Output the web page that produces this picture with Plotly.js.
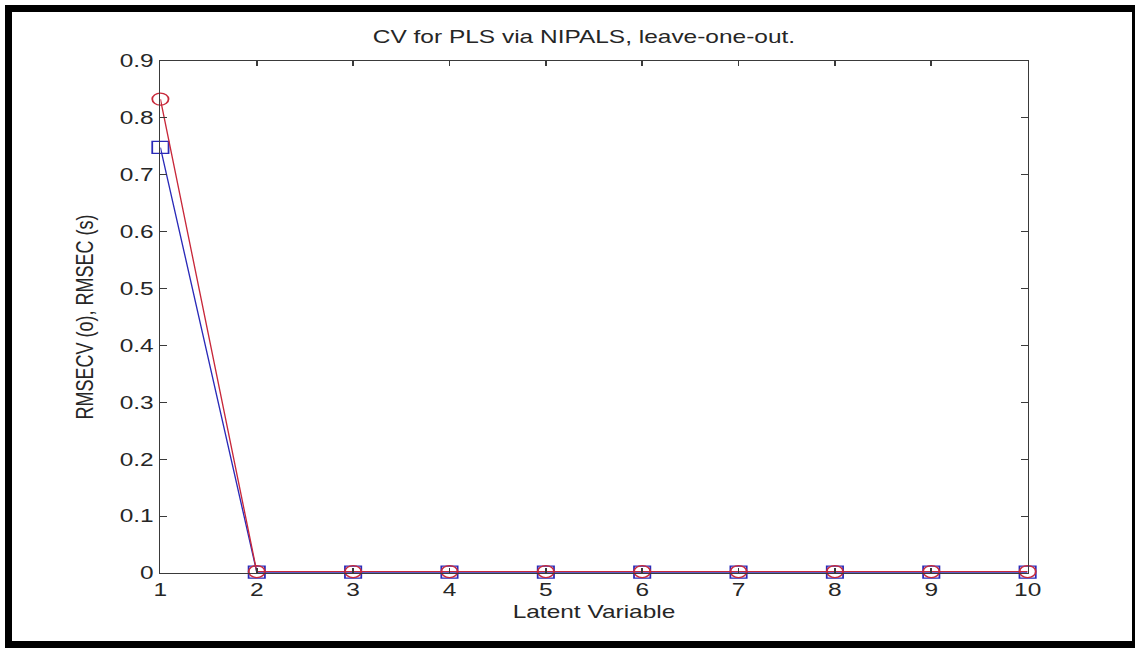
<!DOCTYPE html>
<html>
<head>
<meta charset="utf-8">
<script src="https://cdn.plot.ly/plotly-3.0.1.min.js"></script>
<style>
  html, body { margin: 0; padding: 0; background: #fff; overflow: hidden; }
  #wrap { position: relative; width: 1135px; height: 648px; overflow: hidden; background: #fff; }
  #chart { position: absolute; left: 0; top: 0; width: 835px; height: 648px;
           transform: scaleX(1.3593); transform-origin: 0 0; }
  #frame { position: absolute; left: 5px; top: 5px; width: 1130px; height: 643px; box-sizing: border-box;
           border-top: 7px solid #000; border-left: 7px solid #000; border-bottom: 7px solid #000; border-right: 3px solid #000;
           pointer-events: none; }
</style>
</head>
<body>
<div id="wrap">
  <div id="chart"></div>
  <div id="frame"></div>
</div>
<script>
// Data
const latentVariables = [1, 2, 3, 4, 5, 6, 7, 8, 9, 10];
const rmsecv = [0.833, 0.0025, 0.0025, 0.0025, 0.0025, 0.0025, 0.0025, 0.0025, 0.0025, 0.0025];
const rmsec  = [0.748, 0.0015, 0.0015, 0.0015, 0.0015, 0.0015, 0.0015, 0.0015, 0.0015, 0.0015];
const xTickVals = [1, 2, 3, 4, 5, 6, 7, 8, 9, 10];
const yTickVals = [0, 0.1, 0.2, 0.3, 0.4, 0.5, 0.6, 0.7, 0.8, 0.9];
const yTickText = ["0", "0.1", "0.2", "0.3", "0.4", "0.5", "0.6", "0.7", "0.8", "0.9"];

const font = "Liberation Sans, Arial, sans-serif";

const traces = [
  {
    x: latentVariables, y: rmsec, type: "scatter", mode: "lines+markers", name: "RMSEC",
    line: { color: "#2a2ab8", width: 1 },
    marker: { symbol: "square-open", size: 12, color: "#2a2ab8", line: { width: 1.3 } },
    cliponaxis: false, showlegend: false
  },
  {
    x: latentVariables, y: rmsecv, type: "scatter", mode: "lines+markers", name: "RMSECV",
    line: { color: "#c8283a", width: 1 },
    marker: { symbol: "circle-open", size: 12, color: "#c8283a", line: { width: 1.3 } },
    cliponaxis: false, showlegend: false
  }
];

const axisCommon = {
  showline: true, linecolor: "#3a3a3a", linewidth: 1.3, mirror: "ticks",
  ticks: "inside", ticklen: 5, tickwidth: 1.2, tickcolor: "#3a3a3a",
  showgrid: false, zeroline: false,
  tickfont: { family: font, size: 18, color: "#262626" }
};

const layout = {
  width: 835, height: 648,
  paper_bgcolor: "rgba(0,0,0,0)", plot_bgcolor: "#fff",
  margin: { l: 117.7, r: 78.7, t: 61, b: 75 },
  title: {
    text: "CV for PLS via NIPALS, leave-one-out.",
    font: { family: font, size: 18, color: "#262626" },
    xref: "container", x: 0.5145, xanchor: "center",
    yref: "container", y: 1 - 37 / 648, yanchor: "middle"
  },
  xaxis: Object.assign({}, axisCommon, {
    range: [1, 10], tickvals: xTickVals,
    title: { text: "Latent Variable", font: { family: font, size: 18, color: "#262626" }, standoff: 6 }
  }),
  yaxis: Object.assign({}, axisCommon, {
    range: [0, 0.9], tickvals: yTickVals, ticktext: yTickText,
    title: { text: "RMSECV (o), RMSEC (s)", font: { family: font, size: 18, color: "#262626" }, standoff: 14 }
  }),
  showlegend: false
};

Plotly.newPlot("chart", traces, layout, { staticPlot: true, displayModeBar: false });
</script>
</body>
</html>
